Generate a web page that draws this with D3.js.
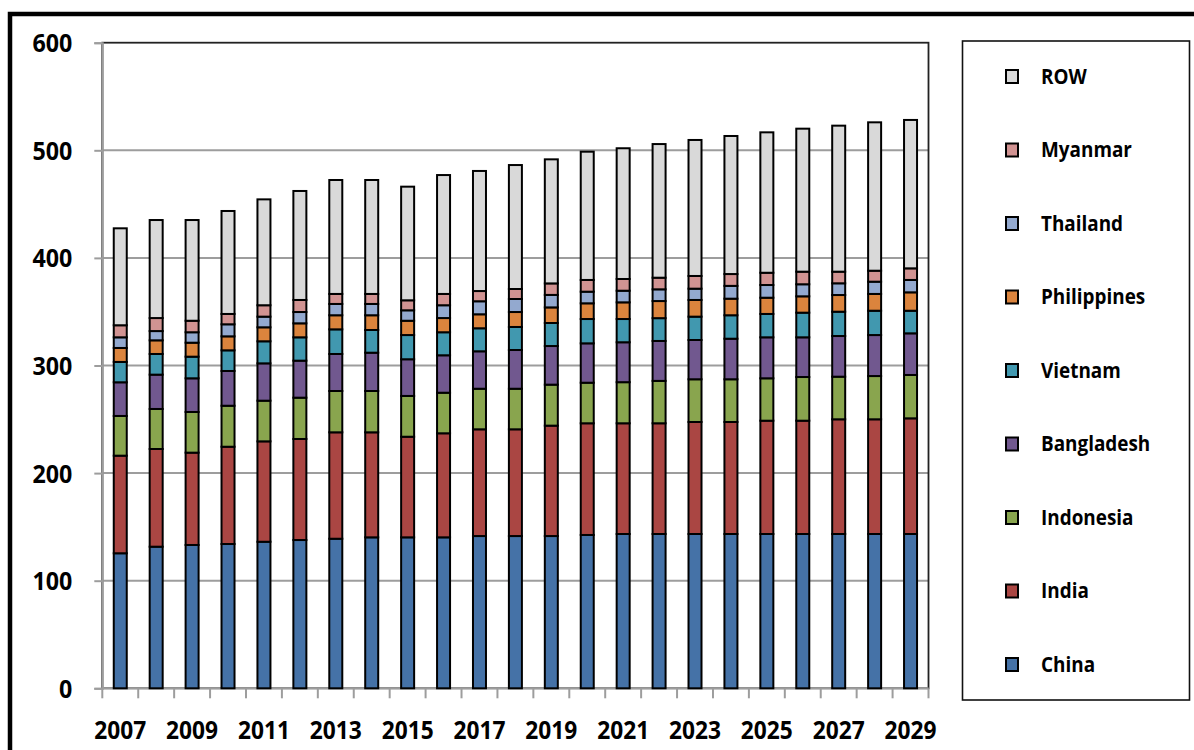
<!DOCTYPE html>
<html>
<head>
<meta charset="utf-8">
<script src="https://cdnjs.cloudflare.com/ajax/libs/d3/7.8.5/d3.min.js"></script>
<style>
  body { margin: 0; background: #fff; }
  svg { display: block; }
  text { font-family: "Open Sans", sans-serif; font-weight: 700; fill: #000; }
</style>
</head>
<body>
<svg id="chart" width="1194" height="750"></svg>
<script>
// years on the x axis
const years = [2007, 2008, 2009, 2010, 2011, 2012, 2013, 2014, 2015, 2016, 2017, 2018,
    2019, 2020, 2021, 2022, 2023, 2024, 2025, 2026, 2027, 2028, 2029];

// stacked values, bottom to top
const china = [125.5, 131.6, 133.2, 134.1, 136.2, 137.8, 139.0, 140.3, 140.3, 140.3, 141.5, 141.5,
    141.5, 142.5, 143.4, 143.4, 143.4, 143.4, 143.4, 143.4, 143.4, 143.4, 143.4];
const india = [90.7, 90.8, 85.8, 90.4, 93.3, 93.9, 98.9, 97.6, 93.5, 96.7, 99.2, 99.2,
    102.6, 103.8, 102.9, 102.9, 104.1, 104.1, 105.3, 105.3, 106.6, 106.6, 107.5];
const indonesia = [36.9, 37.2, 37.8, 38.1, 37.8, 38.4, 38.4, 38.4, 37.9, 37.7, 37.7, 37.7,
    38.1, 37.7, 38.2, 39.4, 39.7, 39.7, 39.4, 40.6, 39.6, 40.2, 40.3];
const bangladesh = [31.3, 31.9, 31.3, 32.3, 34.7, 34.4, 34.4, 35.6, 34.1, 34.8, 34.8, 36.0,
    35.9, 36.6, 37.1, 37.1, 36.5, 37.7, 38.1, 36.9, 37.8, 38.1, 38.7];
const vietnam = [18.9, 19.2, 20.1, 19.2, 20.5, 21.7, 22.9, 21.1, 22.5, 21.4, 21.4, 21.4,
    21.4, 22.6, 21.6, 21.2, 21.7, 21.8, 21.7, 22.9, 22.6, 22.6, 21.0];
const philippines = [13.0, 12.7, 13.0, 13.0, 13.0, 13.0, 13.1, 13.7, 13.3, 13.2, 13.0, 13.9,
    14.5, 14.6, 15.5, 15.9, 15.5, 15.4, 15.1, 15.2, 15.5, 15.6, 17.1];
const thailand = [9.9, 8.6, 9.7, 11.2, 9.9, 10.5, 10.5, 10.5, 9.7, 11.9, 12.1, 12.1,
    11.6, 10.8, 10.8, 10.9, 10.5, 11.9, 11.8, 11.2, 10.9, 11.4, 11.5];
const myanmar = [11.2, 12.1, 10.7, 9.6, 10.6, 11.2, 9.3, 9.3, 9.3, 10.5, 9.5, 9.3,
    10.7, 10.9, 10.9, 10.8, 11.8, 11.0, 11.4, 11.7, 10.8, 10.2, 10.8];
const row = [90.1, 91.1, 93.6, 95.7, 98.4, 101.3, 105.9, 105.9, 105.6, 110.5, 111.6, 115.2,
    115.3, 119.2, 121.5, 124.2, 126.4, 128.3, 130.5, 132.9, 135.7, 137.9, 137.9];

const seriesNames = ["China", "India", "Indonesia", "Bangladesh", "Vietnam",
    "Philippines", "Thailand", "Myanmar", "ROW"];
const seriesValues = [china, india, indonesia, bangladesh, vietnam, philippines, thailand, myanmar, row];
const seriesColors = ["#4572A7", "#AA4643", "#89A54E", "#71588F", "#4198AF",
    "#DB843D", "#93A9CF", "#D19392", "#D9D9D9"];
const yTicks = [0, 100, 200, 300, 400, 500, 600];

const svg = d3.select("#chart"),
    margin = { top: 42.7, right: 265.5, bottom: 61.7, left: 102.3 },
    width = +svg.attr("width") - margin.left - margin.right,
    height = +svg.attr("height") - margin.top - margin.bottom;

// outer frame, cut off at the right and bottom like the source image
svg.append("rect")
    .attr("x", 10).attr("y", 14)
    .attr("width", 1400).attr("height", 1000)
    .style("fill", "none").style("stroke", "#000").style("stroke-width", 4.5);

const graph = svg.append("g")
    .attr("transform", "translate(" + margin.left + "," + margin.top + ")");

const x = d3.scaleBand().domain(years).range([0, width]).padding(0),
    y = d3.scaleLinear().domain([0, 600]).range([height, 0]);

const table = years.map(function (yr, i) {
    const r = { year: yr };
    seriesNames.forEach(function (k, j) { r[k] = seriesValues[j][i]; });
    return r;
});
const stacked = d3.stack().keys(seriesNames)(table);

// gridlines
graph.append("g")
    .selectAll("line")
    .data(yTicks.filter(function (d) { return d > 0 && d < 600; }))
    .join("line")
    .attr("x1", 0).attr("x2", width)
    .attr("y1", function (d) { return y(d); })
    .attr("y2", function (d) { return y(d); })
    .style("stroke", "#9d9d9d").style("stroke-width", 2);

// plot border (top and right show black)
graph.append("rect")
    .attr("width", width).attr("height", height)
    .style("fill", "none").style("stroke", "#222").style("stroke-width", 1.8);

// y axis
const yAxis = graph.append("g")
    .call(d3.axisLeft(y).tickValues(yTicks).tickSize(8).tickPadding(22).tickFormat(d3.format("d")));
yAxis.select(".domain").style("stroke", "#9d9d9d").style("stroke-width", 2);
yAxis.selectAll(".tick line").style("stroke", "#9d9d9d").style("stroke-width", 2);
yAxis.selectAll(".tick text")
    .style("font-family", "'Open Sans', sans-serif")
    .style("font-weight", 700)
    .style("font-size", "25px")
    .attr("dy", "0.36em")
    .attr("textLength", function (d) { return String(d).length * 13.3; })
    .attr("lengthAdjust", "spacingAndGlyphs");

// x axis: line, ticks between bands, labels every other year
graph.append("line")
    .attr("x1", 0).attr("x2", width)
    .attr("y1", height).attr("y2", height)
    .style("stroke", "#9d9d9d").style("stroke-width", 2);

graph.append("g")
    .selectAll("line")
    .data(years.concat(["end"]))
    .join("line")
    .attr("x1", function (d) { return d === "end" ? width : x(d); })
    .attr("x2", function (d) { return d === "end" ? width : x(d); })
    .attr("y1", height).attr("y2", height + 10)
    .style("stroke", "#9d9d9d").style("stroke-width", 2);

const xAxis = graph.append("g")
    .attr("transform", "translate(0," + height + ")")
    .call(d3.axisBottom(x).tickValues(years.filter(function (d, i) { return i % 2 === 0; }))
        .tickSize(0).tickPadding(33));
xAxis.select(".domain").remove();
xAxis.selectAll(".tick text")
    .style("font-family", "'Open Sans', sans-serif")
    .style("font-weight", 700)
    .style("font-size", "25px")
    .attr("textLength", 52)
    .attr("lengthAdjust", "spacingAndGlyphs");

// stacked bars
const barW = 13;
graph.append("g")
    .selectAll("g")
    .data(stacked)
    .join("g")
    .style("fill", function (d, i) { return seriesColors[i]; })
    .selectAll("rect")
    .data(function (d) { return d; })
    .join("rect")
    .attr("x", function (d) { return x(d.data.year) + x.bandwidth() / 2 - barW / 2; })
    .attr("y", function (d) { return y(d[1]); })
    .attr("width", barW)
    .attr("height", function (d) { return y(d[0]) - y(d[1]); })
    .style("stroke", "#000")
    .style("stroke-width", 2);

// legend
const legend = svg.append("g");
legend.append("rect")
    .attr("x", 962.5).attr("y", 41)
    .attr("width", 227).attr("height", 659)
    .style("fill", "#fff").style("stroke", "#111").style("stroke-width", 1.6);

const legendOrder = seriesNames.slice().reverse();
const legendY = d3.scalePoint().domain(legendOrder).range([76.5, 664.5]);

const item = legend.selectAll("g.item")
    .data(legendOrder)
    .join("g")
    .attr("class", "item")
    .attr("transform", function (d) { return "translate(0," + legendY(d) + ")"; });

item.append("rect")
    .attr("x", 1006).attr("y", -6.5)
    .attr("width", 12).attr("height", 13)
    .style("fill", function (d) { return seriesColors[seriesNames.indexOf(d)]; })
    .style("stroke", "#000").style("stroke-width", 2);

item.append("text")
    .attr("transform", "translate(1041,0) scale(0.9,1)")
    .attr("dy", "0.35em")
    .style("font-size", "21px")
    .text(function (d) { return d; });
</script>
</body>
</html>
